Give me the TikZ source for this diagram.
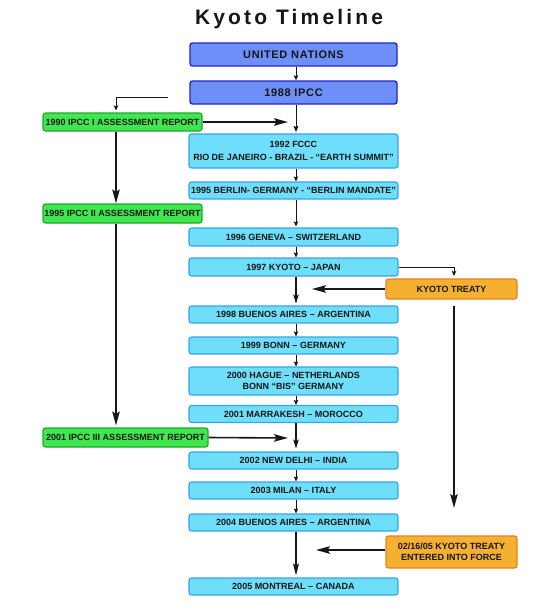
\documentclass[tikz,border=0pt]{standalone}
\usepackage{fontspec}
\setmainfont{Liberation Sans}
\newfontfamily\titlefont[LetterSpace=15]{Liberation Sans}
\newfontfamily\headfont[LetterSpace=6]{Liberation Sans}
\usetikzlibrary{arrows.meta,calc}
\definecolor{bluefill}{RGB}{110,142,248}
\definecolor{blueline}{RGB}{30,40,200}
\definecolor{cyanfill}{RGB}{110,222,250}
\definecolor{cyanline}{RGB}{55,165,230}
\definecolor{greenfill}{RGB}{64,232,80}
\definecolor{greenline}{RGB}{35,165,45}
\definecolor{orangefill}{RGB}{245,176,48}
\definecolor{orangeline}{RGB}{230,128,30}
\definecolor{ink}{RGB}{22,22,22}
\begin{document}
\begin{tikzpicture}[x=1pt,y=-1pt,
  basebox/.style={rounded corners=2.5pt, line width=1.1pt, inner sep=0pt, align=center,
    text=ink, font=\bfseries\fontsize{9}{10.5}\selectfont},
  unbox/.style={basebox, fill=bluefill, draw=blueline, line width=1.4pt,
    minimum width=207pt, minimum height=23pt, font=\headfont\bfseries\fontsize{11}{12}\selectfont},
  cyanbox/.style={basebox, fill=cyanfill, draw=cyanline, minimum width=209pt, minimum height=17pt},
  greenbox/.style={basebox, fill=greenfill, draw=greenline, minimum height=19pt},
  orangebox/.style={basebox, fill=orangefill, draw=orangeline, minimum width=131pt},
  small/.style={draw=ink, line width=0.9pt, -{Stealth[length=5pt,width=4.5pt,inset=1pt]}},
  mid/.style={draw=ink, line width=1.1pt, -{Stealth[length=9pt,width=5.5pt,inset=2pt]}},
  big/.style={draw=ink, line width=1.6pt, -{Stealth[length=14pt,width=7.5pt,inset=2.5pt]}}
]
\useasboundingbox (0,0) rectangle (540,611);

\node[font=\titlefont\bfseries\fontsize{21}{21}\selectfont, text=ink] (title) at (289,19) {Kyoto Timeline};

\node[unbox] (un) at (293.5,54.5) {UNITED NATIONS};
\node[unbox] (ipcc) at (293.5,92.5) {1988 IPCC};

\node[cyanbox, minimum height=34pt] (fccc) at (293.5,151) {1992 FCCC\\[3pt]RIO DE JANEIRO - BRAZIL - “EARTH SUMMIT”};
\node[cyanbox] (berlin) at (293.5,190.5) {1995 BERLIN- GERMANY - “BERLIN MANDATE”};
\node[cyanbox, minimum height=18pt] (geneva) at (293.5,237) {1996 GENEVA – SWITZERLAND};
\node[cyanbox, minimum height=18pt] (kyoto) at (293.5,267) {1997 KYOTO – JAPAN};
\node[cyanbox] (ba98) at (293.5,314.5) {1998 BUENOS AIRES – ARGENTINA};
\node[cyanbox] (bonn) at (293.5,345.5) {1999 BONN – GERMANY};
\node[cyanbox, minimum height=28pt] (hague) at (293.5,381) {2000 HAGUE – NETHERLANDS\\BONN “BIS” GERMANY};
\node[cyanbox] (marr) at (293.5,414) {2001 MARRAKESH – MOROCCO};
\node[cyanbox] (delhi) at (293.5,460.5) {2002 NEW DELHI – INDIA};
\node[cyanbox] (milan) at (293.5,490.5) {2003 MILAN – ITALY};
\node[cyanbox] (ba04) at (293.5,522.5) {2004 BUENOS AIRES – ARGENTINA};
\node[cyanbox] (mont) at (293.5,586.5) {2005 MONTREAL – CANADA};

\node[greenbox, minimum width=159pt, minimum height=18pt] (r1990) at (122.5,122) {1990 IPCC I ASSESSMENT REPORT};
\node[greenbox, minimum width=159pt] (r1995) at (122.5,213.5) {1995 IPCC II ASSESSMENT REPORT};
\node[greenbox, minimum width=165pt] (r2001) at (125.5,437.5) {2001 IPCC III ASSESSMENT REPORT};

\node[orangebox, minimum height=20pt] (treaty) at (451.5,289) {KYOTO TREATY};
\node[orangebox, minimum height=32pt] (force) at (451.5,552) {02/16/05 KYOTO TREATY\\ENTERED INTO FORCE};

% guide coordinates
\coordinate (T) at (296,0);
\coordinate (L) at (116,0);
\coordinate (K) at (454,0);
\coordinate (b0) at (168,97);
\coordinate (a1) at (288,122);
\coordinate (a2) at (312,289);
\coordinate (a3) at (454,508);
\coordinate (a4) at (316,550);
\coordinate (a5) at (288,438);

% trunk
\draw[small] (un.south -| T) -- (ipcc.north -| T);
\draw[small, -{Stealth[length=6pt,width=5pt,inset=1pt]}, shorten >=1.5pt] (ipcc.south -| T) -- (fccc.north -| T);
\draw[small] (fccc.south -| T) -- (berlin.north -| T);
\draw[small, shorten >=1pt] (berlin.south -| T) -- (geneva.north -| T);
\draw[small] (geneva.south -| T) -- (kyoto.north -| T);
\draw[mid, shorten >=2pt] (kyoto.south -| T) -- (ba98.north -| T);
\draw[small] (ba98.south -| T) -- (bonn.north -| T);
\draw[small] (bonn.south -| T) -- (hague.north -| T);
\draw[small] (hague.south -| T) -- (marr.north -| T);
\draw[mid, shorten >=3pt] (marr.south -| T) -- (delhi.north -| T);
\draw[small] (delhi.south -| T) -- (milan.north -| T);
\draw[small] (milan.south -| T) -- (ba04.north -| T);
\draw[mid, -{Stealth[length=12pt,width=6pt,inset=2.5pt]}, shorten >=2pt] (ba04.south -| T) -- (mont.north -| T);

% IPCC reports
\draw[small, shorten >=2pt] (b0) -| (r1990.north -| L);
\draw[big] (r1990.east) -- (a1);
\draw[big] (r1990.south -| L) -- (r1995.north -| L);
\draw[big, shorten >=2pt] (r1995.south -| L) -- (r2001.north -| L);
\draw[big] (r2001.east) -- (a5);

% treaty branch
\draw[small, shorten >=2.5pt] (kyoto.east) -| (treaty.north -| K);
\draw[big] (a2 -| treaty.west) -- (a2);
\draw[big, shorten <=6pt] (treaty.south -| K) -- (a3);
\draw[big] (a4 -| force.west) -- (a4);
\end{tikzpicture}
\end{document}
